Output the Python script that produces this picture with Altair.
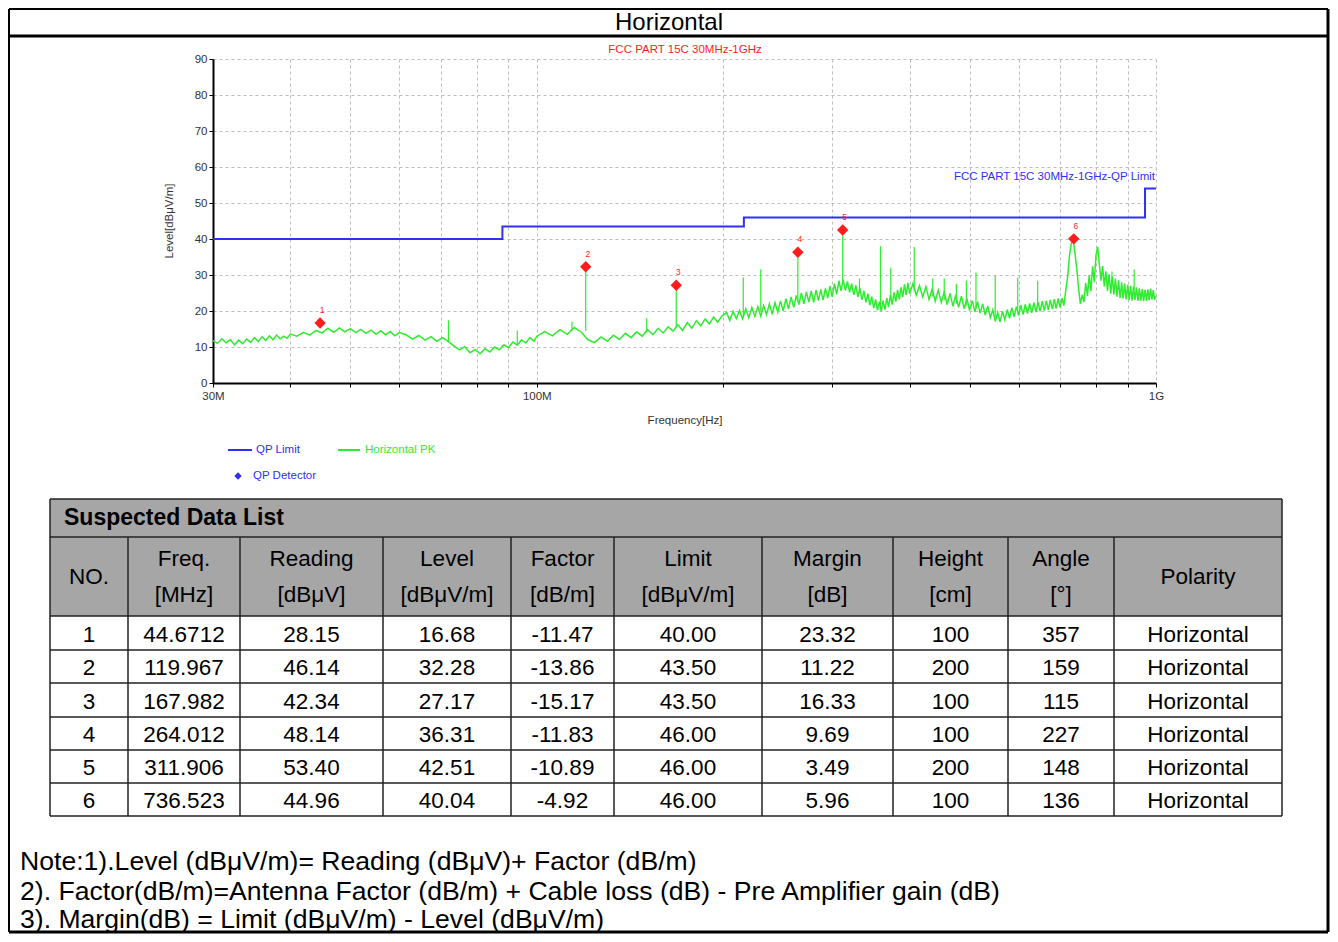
import altair as alt
import pandas as pd

# ---------------- values ----------------
limit_freq = [30, 88, 216, 960, 1000]          # MHz
limit_level = [40.0, 43.5, 46.0, 54.0, 54.0]   # dBuV/m

pk_freq = [
    30, 30.5, 31, 31.5, 32, 32.5, 33, 33.5, 34, 34.5, 35, 35.5, 36, 36.5, 37, 37.5, 38, 38.5, 39, 39.5, 40,
    41, 42, 43, 44, 45, 46, 47, 48, 49, 50, 51, 52, 53, 54, 55, 56, 57, 58, 59, 60,
    61.5, 63, 64.5, 66, 67.5, 69, 70.5, 72, 73.5, 75, 76.5, 78, 79.5, 81, 82.5, 84, 85.5, 87, 88.5, 90,
    91.5, 93, 94.5, 96, 97.5, 99,
    100, 103, 106, 109, 112, 115, 118, 121, 124, 127, 130, 133, 136, 139, 142, 145, 148, 151, 154, 157,
    160, 163, 166, 169, 172, 175, 178, 181, 184, 187, 190, 193, 196, 199,
    202.5, 205, 207.5, 210, 212.5, 215, 217.5, 220, 222.5, 225, 227.5, 230, 232.5, 235, 237.5, 240,
    242.5, 245, 247.5, 250, 252.5, 255, 257.5, 260, 262.5, 265, 267.5, 270, 272.5, 275, 277.5, 280,
    282.5, 285, 287.5, 290, 292.5, 295, 297.5, 300, 302.5, 305, 307.5, 310, 312.5, 315, 317.5, 320,
    322.5, 325, 327.5, 330, 332.5, 335, 337.5, 340, 342.5, 345, 347.5, 350, 352.5, 355, 357.5, 360,
    362.5, 365, 367.5, 370, 372.5, 375, 377.5, 380, 382.5, 385, 387.5, 390, 392.5, 395, 397.5, 400,
    405, 410, 415, 420, 425, 430, 435, 440, 445, 450, 455, 460, 465, 470, 475, 480, 485, 490, 495, 500,
    505, 510, 515, 520, 525, 530, 535, 540, 545, 550, 555, 560, 565, 570, 575, 580, 585, 590, 595, 600,
    605, 610, 615, 620, 625, 630, 635, 640, 645, 650, 655, 660, 665, 670, 675, 680, 685, 690, 695, 700,
    705, 710, 715, 720, 725, 730, 735, 740, 745, 750, 755, 760, 765, 770, 775, 780, 785, 790, 795, 800,
    805, 810, 815, 820, 825, 830, 835, 840, 845, 850, 855, 860, 865, 870, 875, 880, 885, 890, 895, 900,
    905, 910, 915, 920, 925, 930, 935, 940, 945, 950, 955, 960, 965, 970, 975, 980, 985, 990, 995, 1000,
]
pk_level = [
    11.8, 11.0, 12.3, 11.2, 12.0, 10.6, 11.9, 10.9, 12.2, 11.3, 12.6, 11.5, 12.9, 11.8, 13.1, 12.0, 13.3, 12.2, 13.0, 12.4, 13.6,
    13.0, 14.1, 13.3, 14.6, 13.9, 15.2, 14.1, 15.3, 14.2, 15.1, 14.0, 14.9, 13.8, 14.7, 13.6, 14.5, 13.4, 14.3, 13.1, 14.0,
    13.4, 12.2, 13.2, 11.9, 12.9, 11.6, 12.6, 11.5, 10.3, 9.2, 10.1, 8.4, 9.3, 8.1, 9.5, 8.6, 10.0, 9.2, 10.6, 9.8,
    11.4, 10.5, 12.0, 11.1, 12.6, 11.6,
    13.0, 14.3, 13.1, 14.8, 13.5, 15.4, 14.1, 12.0, 11.2, 12.8, 11.6, 13.3, 12.1, 13.8, 12.6, 14.2, 13.0, 14.8, 13.4, 15.2,
    13.9, 15.6, 14.4, 16.2, 14.6, 16.8, 15.2, 17.3, 15.9, 17.8, 16.4, 18.3, 16.9, 18.6,
    19.6, 17.4, 19.9, 17.9, 20.1, 17.8, 20.6, 18.2, 21.0, 18.5, 21.2, 18.6, 21.5, 19.0, 22.0, 19.1,
    22.3, 19.7, 22.8, 20.0, 23.4, 20.6, 23.9, 21.0, 24.3, 21.8, 25.0, 22.0, 25.3, 22.5, 25.6, 22.4,
    25.8, 22.9, 26.0, 23.0, 26.3, 23.6, 26.9, 23.9, 27.6, 24.6, 28.4, 25.6, 28.8, 25.7, 28.2, 25.2,
    27.6, 24.5, 27.1, 23.9, 26.4, 23.1, 25.6, 22.4, 24.8, 21.6, 24.0, 20.8, 23.2, 20.2, 22.6, 19.9,
    22.9, 20.4, 23.6, 21.1, 24.4, 21.8, 25.2, 22.6, 25.9, 23.2, 26.6, 23.9, 27.4, 24.5, 27.8, 24.8,
    27.6, 24.4, 27.0, 23.9, 26.8, 23.2, 26.1, 22.7, 25.8, 22.4, 25.3, 21.8, 24.9, 21.3, 24.5, 21.0, 24.1, 20.6, 23.5, 20.1,
    22.9, 19.7, 22.6, 19.4, 22.0, 18.9, 21.4, 18.2, 20.3, 17.1, 19.6, 17.0, 19.9, 17.6, 20.4, 18.0, 20.9, 18.4, 21.2, 18.7,
    21.6, 19.0, 21.8, 19.3, 22.1, 19.5, 22.3, 19.7, 22.5, 19.9, 22.7, 20.1, 22.9, 20.3, 23.1, 20.5, 23.3, 20.7, 23.5, 21.0,
    23.6, 21.5, 25.8, 29.5, 35.5, 38.9, 39.6, 36.0, 31.5, 26.0, 22.0, 24.5, 22.5, 27.8, 24.2, 30.0, 25.5, 32.4, 28.0, 35.5,
    37.8, 33.0, 28.4, 32.5, 26.8, 31.0, 25.6, 30.2, 24.8, 29.6, 24.5, 29.0, 24.0, 28.5, 23.6, 28.0, 23.4, 27.6, 23.2, 27.3,
    23.0, 27.0, 22.9, 26.8, 23.1, 26.6, 22.8, 26.3, 22.9, 26.1, 22.7, 25.9, 22.8, 26.0, 23.0, 26.2, 23.2, 25.8, 23.1, 24.2,
]

# narrow spurs sticking out of the PK trace
spur_freq = [72, 93, 114, 119.967, 150.5, 167.982, 215.5, 230, 264.012, 311.906, 332, 359,
             373, 407, 436, 455, 476, 494, 512, 550, 598, 644, 849, 922]
spur_base = [11.5, 10.5, 14.5, 14.5, 14.0, 15.5, 18.5, 20.0, 23.0, 27.5, 25.0, 21.5,
             23.0, 25.5, 24.0, 23.0, 22.0, 21.5, 21.0, 18.5, 20.5, 21.0, 27.0, 26.0]
spur_top = [17.4, 14.6, 17.0, 32.28, 18.0, 27.17, 29.3, 31.5, 36.31, 42.51, 29.0, 38.0,
            32.0, 37.8, 29.0, 29.0, 27.6, 28.5, 30.7, 29.8, 29.3, 28.4, 31.0, 31.5]

# Suspected Data List
no = [1, 2, 3, 4, 5, 6]
freq_mhz = [44.6712, 119.967, 167.982, 264.012, 311.906, 736.523]
reading = [28.15, 46.14, 42.34, 48.14, 53.40, 44.96]
level = [16.68, 32.28, 27.17, 36.31, 42.51, 40.04]
factor = [-11.47, -13.86, -15.17, -11.83, -10.89, -4.92]
limit = [40.00, 43.50, 43.50, 46.00, 46.00, 46.00]
margin = [23.32, 11.22, 16.33, 9.69, 3.49, 5.96]
height_cm = [100, 200, 100, 100, 200, 100]
angle = [357, 159, 115, 227, 148, 136]
polarity = ["Horizontal"] * 6

head1 = ["NO.", "Freq.", "Reading", "Level", "Factor", "Limit", "Margin", "Height", "Angle", "Polarity"]
head2 = ["", "[MHz]", "[dBμV]", "[dBμV/m]", "[dB/m]", "[dBμV/m]", "[dB]", "[cm]", "[°]", ""]

notes = [
    "Note:1).Level (dBμV/m)= Reading (dBμV)+ Factor (dB/m)",
    "2). Factor(dB/m)=Antenna Factor (dB/m) + Cable loss (dB) - Pre Amplifier gain (dB)",
    "3). Margin(dB) = Limit (dBμV/m) - Level (dBμV/m)",
]

x_ticks = [30, 40, 50, 60, 70, 80, 90, 100, 200, 300, 400, 500, 600, 700, 800, 900, 1000]
y_ticks = [0, 10, 20, 30, 40, 50, 60, 70, 80, 90]

# ---------------- layout / style ----------------
FONT = "Liberation Sans, Arial, sans-serif"
BLUE = "#3030F4"
GREEN = "#2FEC2F"
RED = "#FF1C1C"
GRID = "#BDBDBD"
FILL = "#A6A6A6"
PLOT_FS = 11.5
TABLE_FS = 22.5

OX, OY = 213, 59          # page position of the plot origin
PW, PH = 943, 324         # plot area
PAGE_W, PAGE_H = 1322, 926


def rx(v):
    return v - OX


def ry(v):
    return v - OY


col_edges = [50, 128, 240, 383, 511, 614, 762, 893, 1008, 1114, 1282]
row_edges = [616, 650, 683, 717, 750, 783, 816]
TBL_TOP, HEAD_TOP = 499, 537
FL, FR, FT, FH, FB = 9, 1328, 9, 36, 932


def RX(f):
    return alt.X(f + ":Q", scale=None, axis=None)


def RY(f):
    return alt.Y(f + ":Q", scale=None, axis=None)


# ---------------- decoration lines ----------------
rules = []


def hline(x1, x2, y, w, c="black"):
    rules.append(dict(x=rx(x1), x2=rx(x2), y=ry(y), y2=ry(y), w=w, c=c))


def vline(x, y1, y2, w, c="black"):
    rules.append(dict(x=rx(x), x2=rx(x), y=ry(y1), y2=ry(y2), w=w, c=c))


# page frame
hline(FL, FR, FT, 2)
hline(FL, FR, FH, 3)
hline(FL, FR, FB, 3)
vline(FL, FT, FB, 2)
vline(FR, FT, FB, 3)
# table
for yy in [TBL_TOP, HEAD_TOP] + row_edges:
    hline(col_edges[0], col_edges[-1], yy, 1.5, "#222222")
vline(col_edges[0], TBL_TOP, row_edges[-1], 1.5, "#222222")
vline(col_edges[-1], TBL_TOP, row_edges[-1], 1.5, "#222222")
for xx in col_edges[1:-1]:
    vline(xx, HEAD_TOP, row_edges[-1], 1.5, "#222222")
# legend lines
hline(228, 252, 450, 2, BLUE)
hline(338, 360, 450, 2, GREEN)

rule_layer = alt.Chart(pd.DataFrame(rules)).mark_rule().encode(
    x=RX("x"), x2="x2:Q", y=RY("y"), y2="y2:Q",
    strokeWidth=alt.StrokeWidth("w:Q", scale=None),
    color=alt.Color("c:N", scale=None),
)

fill_layer = alt.Chart(pd.DataFrame([dict(x=rx(col_edges[0]), x2=rx(col_edges[-1]),
                                          y=ry(TBL_TOP), y2=ry(row_edges[0]))])).mark_rect(
    color=FILL).encode(x=RX("x"), x2="x2:Q", y=RY("y"), y2="y2:Q")


def text_layer(rows, align="center", size=TABLE_FS, weight="normal", color="black", angle=0):
    return alt.Chart(pd.DataFrame(rows)).mark_text(
        align=align, baseline="middle", font=FONT, fontSize=size, fontWeight=weight,
        color=color, angle=angle,
    ).encode(x=RX("x"), y=RY("y"), text="t:N")


# ---------------- spectrum ----------------
xs = alt.Scale(type="log", domain=[30, 1000], nice=False)
ys = alt.Scale(domain=[0, 90], nice=False)
label_expr = ("datum.value == 30 ? '30M' : datum.value == 100 ? '100M' : "
              "datum.value == 1000 ? '1G' : ''")
x_axis = alt.Axis(values=x_ticks, labelExpr=label_expr, title=None, grid=True, gridDash=[3, 3],
                  gridColor=GRID, domainColor="black", domainWidth=2, tickColor="black", tickSize=4,
                  labelFont=FONT, labelFontSize=PLOT_FS, labelColor="#333333", labelPadding=3,
                  labelFlush=False, labelOverlap=False)
y_axis = alt.Axis(values=y_ticks, title=None, grid=True, gridDash=[3, 3], gridColor=GRID,
                  domainColor="black", domainWidth=2, tickColor="black", tickSize=4,
                  labelFont=FONT, labelFontSize=PLOT_FS, labelColor="#333333", labelPadding=2,
                  labelOverlap=False)

lim_df = pd.DataFrame({"f": limit_freq, "v": limit_level})
pk_df = pd.DataFrame({"f": pk_freq, "v": pk_level})
spur_df = pd.DataFrame({"f": spur_freq, "v": spur_base, "t": spur_top})
qp_df = pd.DataFrame({"no": [str(n) for n in no], "f": freq_mhz, "v": level})


def sx():
    return alt.X("f:Q", scale=xs, axis=x_axis)


def sy():
    return alt.Y("v:Q", scale=ys, axis=y_axis)


pk_line = alt.Chart(pk_df).mark_line(color=GREEN, strokeWidth=1.5).encode(x=sx(), y=sy())
spur_rules = alt.Chart(spur_df).mark_rule(color=GREEN, strokeWidth=1.2).encode(x=sx(), y=sy(), y2="t:Q")
lim_line = alt.Chart(lim_df).mark_line(color=BLUE, strokeWidth=2, interpolate="step-after").encode(
    x=sx(), y=sy())
qp_pts = alt.Chart(qp_df).mark_point(shape="diamond", filled=True, color=RED, size=130, opacity=1).encode(
    x=sx(), y=sy())
qp_txt = alt.Chart(qp_df).mark_text(color=RED, fontSize=8.5, font=FONT, dx=2, dy=-13).encode(
    x=sx(), y=sy(), text="no:N")

# ---------------- texts ----------------
texts = []
texts.append(text_layer([dict(x=rx(669), y=ry(23), t="Horizontal")], size=24))
texts.append(text_layer([dict(x=rx(685), y=ry(50), t="FCC PART 15C 30MHz-1GHz")], size=PLOT_FS, color=RED))
texts.append(text_layer([dict(x=rx(1155), y=ry(177), t="FCC PART 15C 30MHz-1GHz-QP Limit")],
                        align="right", size=PLOT_FS, color=BLUE))
texts.append(text_layer([dict(x=rx(170), y=ry(221), t="Level[dBμV/m]")], size=PLOT_FS, angle=270,
                        color="#333333"))
texts.append(text_layer([dict(x=rx(685), y=ry(421), t="Frequency[Hz]")], size=PLOT_FS, color="#333333"))
# legend
texts.append(text_layer([dict(x=rx(256), y=ry(450), t="QP Limit"),
                         dict(x=rx(253), y=ry(476), t="QP Detector")], align="left", size=PLOT_FS,
                        color=BLUE))
texts.append(text_layer([dict(x=rx(365), y=ry(450), t="Horizontal PK")], align="left", size=PLOT_FS,
                        color=GREEN))
legend_diamond = alt.Chart(pd.DataFrame([dict(x=rx(238), y=ry(476))])).mark_point(
    shape="diamond", filled=True, color=BLUE, size=55, opacity=1).encode(x=RX("x"), y=RY("y"))

# table
texts.append(text_layer([dict(x=rx(64), y=ry(518), t="Suspected Data List")], align="left",
                        size=23, weight="bold"))
centers = [(col_edges[j] + col_edges[j + 1]) / 2 for j in range(len(col_edges) - 1)]
hdr = []
for j, c in enumerate(centers):
    if head2[j]:
        hdr.append(dict(x=rx(c), y=ry(559), t=head1[j]))
        hdr.append(dict(x=rx(c), y=ry(595), t=head2[j]))
    else:
        hdr.append(dict(x=rx(c), y=ry(577), t=head1[j]))
texts.append(text_layer(hdr))

cells = []
for i in range(len(no)):
    row = [str(no[i]), f"{freq_mhz[i]:.6g}", f"{reading[i]:.2f}", f"{level[i]:.2f}",
           f"{factor[i]:.2f}", f"{limit[i]:.2f}", f"{margin[i]:.2f}", str(height_cm[i]),
           str(angle[i]), polarity[i]]
    yc = (row_edges[i] + row_edges[i + 1]) / 2 + 1.5
    for j, t in enumerate(row):
        cells.append(dict(x=rx(centers[j]), y=ry(yc), t=t))
texts.append(text_layer(cells))

# notes
texts.append(text_layer([dict(x=rx(20), y=ry(yy), t=t) for yy, t in zip([862, 892, 920], notes)],
                        align="left", size=26.6))

chart = alt.layer(
    fill_layer, rule_layer, pk_line, spur_rules, lim_line, qp_pts, qp_txt, legend_diamond, *texts
).properties(
    width=PW, height=PH,
    padding={"left": OX - 8, "top": OY - 8, "right": PAGE_W - (OX - 8) - PW,
             "bottom": PAGE_H - (OY - 8) - PH},
    autosize=alt.AutoSizeParams(type="none"),
    background="white",
).configure_view(stroke=None)

chart.save("out.html", embed_options={"renderer": "svg", "actions": False})
